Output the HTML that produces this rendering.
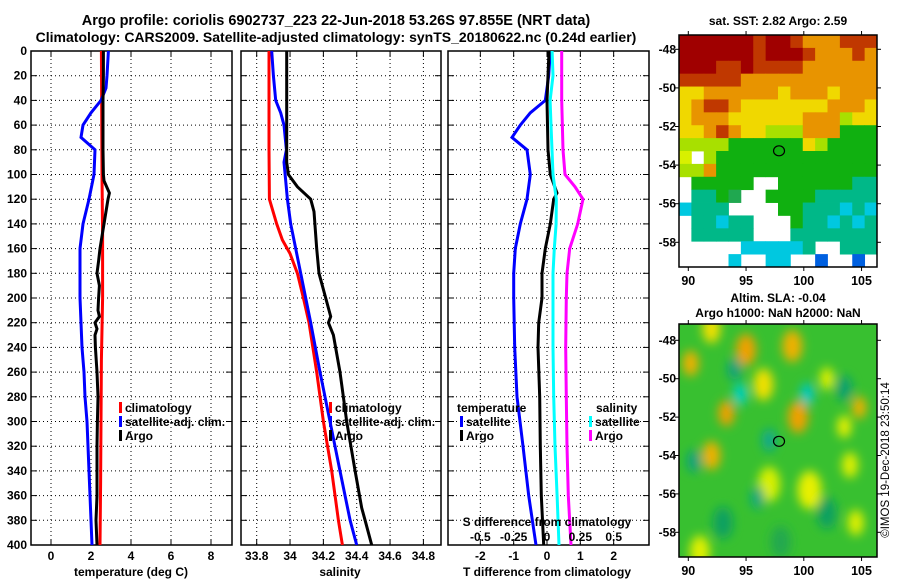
<!DOCTYPE html>
<html><head><meta charset="utf-8">
<style>
html,body{margin:0;padding:0;background:#fff;}
svg{display:block;font-family:"Liberation Sans",sans-serif;font-weight:bold;}
</style></head>
<body>
<svg id="fig" width="900" height="580" viewBox="0 0 900 580" xmlns="http://www.w3.org/2000/svg">
<defs>
<filter id="blur" x="-30%" y="-30%" width="160%" height="160%"><feGaussianBlur stdDeviation="5"/></filter>
<clipPath id="clipTop"><rect x="679" y="35" width="198" height="232"/></clipPath>
<clipPath id="clipBot"><rect x="679" y="324" width="198" height="233"/></clipPath>
<clipPath id="clipP1"><rect x="31" y="51" width="201" height="494"/></clipPath>
<clipPath id="clipP2"><rect x="241" y="51" width="200" height="494"/></clipPath>
<clipPath id="clipP3"><rect x="448" y="51" width="201" height="494"/></clipPath>
</defs>
<text x="336" y="25" font-size="14.5" text-anchor="middle">Argo profile: coriolis 6902737_223 22-Jun-2018 53.26S 97.855E (NRT data)</text>
<text x="336" y="42" font-size="14" text-anchor="middle">Climatology: CARS2009. Satellite-adjusted climatology: synTS_20180622.nc (0.24d earlier)</text>
<g id="g1"></g>
<g id="g2"></g>
<g id="g3"></g>
<g id="gm1"></g>
<g id="gm2"></g>
<text transform="translate(889,460) rotate(-90)" font-size="11.5" font-weight="normal" text-anchor="middle">©IMOS 19-Dec-2018 23:50:14</text>
</svg>
<script>
// ---------- data ----------
const depthTicks = [0,20,40,60,80,100,120,140,160,180,200,220,240,260,280,300,320,340,360,380,400];
const tempTicks = [0,2,4,6,8];
const salTicks = [33.8,34,34.2,34.4,34.6,34.8];
const tdiffTicks = [-2,-1,0,1,2];
const sdiffTicks = [-0.5,-0.25,0,0.25,0.5];
const sdiffLabels = ["-0.5","-0.25","0","0.25","0.5"];

const tClimDepth = [0,100,150,200,250,300,350,400];
const tClimVal   = [2.52,2.55,2.58,2.58,2.52,2.5,2.48,2.45];
const tSatDepth = [0,20,30,40,50,60,70,80,100,120,140,160,180,200,220,240,260,280,300,320,340,360,380,400];
const tSatVal   = [2.87,2.8,2.75,2.5,2.0,1.6,1.5,2.2,2.15,1.9,1.6,1.45,1.45,1.45,1.5,1.55,1.65,1.7,1.8,1.85,1.9,1.95,2.0,2.05];
const tArgoDepth = [0,20,40,60,80,100,105,115,120,140,150,160,170,180,190,200,210,215,220,225,230,240,260,280,300,320,340,360,380,400];
const tArgoVal   = [2.62,2.62,2.6,2.6,2.6,2.62,2.65,2.92,2.85,2.65,2.55,2.45,2.38,2.3,2.42,2.38,2.35,2.42,2.2,2.3,2.2,2.22,2.3,2.35,2.32,2.3,2.3,2.3,2.25,2.3];

const sClimDepth = [0,40,80,120,140,153,164,180,200,220,260,300,340,380,400];
const sClimVal   = [33.874,33.874,33.874,33.876,33.92,33.954,34.0,34.044,34.08,34.114,34.16,34.2,34.25,34.29,34.314];
const sSatDepth = [0,20,40,50,60,80,90,120,140,160,180,220,260,300,340,380,400];
const sSatVal   = [33.89,33.9,33.914,33.944,33.964,33.978,33.964,33.984,34.004,34.034,34.064,34.124,34.18,34.24,34.3,34.36,34.4];
const sArgoDepth = [0,40,90,100,110,120,130,160,180,200,215,220,230,260,300,340,370,380,400];
const sArgoVal   = [33.98,33.98,33.98,33.99,34.044,34.124,34.144,34.16,34.174,34.214,34.244,34.23,34.26,34.3,34.34,34.39,34.43,34.45,34.49];

const dTSatDepth = [0,20,40,50,60,70,80,100,120,140,160,180,200,240,280,320,360,400];
const dTSatVal   = [0.1,0.05,-0.05,-0.5,-0.8,-1.05,-0.6,-0.5,-0.6,-0.8,-0.95,-1.0,-1.0,-0.97,-0.9,-0.72,-0.55,-0.33];
const dTArgoDepth = [0,40,80,100,115,120,140,160,180,200,220,240,280,320,360,400];
const dTArgoVal   = [0.06,0.0,0.03,0.1,0.3,0.2,0.1,-0.05,-0.15,-0.15,-0.25,-0.27,-0.22,-0.2,-0.17,-0.1];
const dSSatDepth = [0,20,40,60,100,120,140,160,180,200,240,280,320,360,400];
const dSSatVal   = [0.038,0.045,0.023,0.03,0.045,0.07,0.068,0.055,0.045,0.045,0.045,0.05,0.06,0.076,0.09];
const dSArgoDepth = [0,40,80,100,110,120,140,160,180,200,240,280,320,360,400];
const dSArgoVal   = [0.11,0.11,0.12,0.135,0.21,0.27,0.23,0.17,0.15,0.145,0.14,0.145,0.15,0.16,0.18];

const latTicks = [-48,-50,-52,-54,-56,-58];
const lonTicks = [90,95,100,105];
const argoLon = 97.855, argoLat = -53.26;
const sstRows = [
"RRRRRRrRRrOOOrrr",
"RRRRRRrRRRrOOOrO",
"RRRrrRrrrrOOOOOO",
"rrrrrOOOOOOOOOOO",
"YYOOOOOOYOOOYOOO",
"YOrrOYYYYYYYOOOY",
"YOOOYYYYYYOOOLYY",
"YYOrOYYLLLOOOGGG",
"LLLLGGGGGGYLGGGG",
"yWLGGGGGGGGGGGGG",
"LLOGGGGGGGGGGGGG",
"WGGGGGWWGGGGGGTT",
"WTTGgWWGGGGTTTTT",
"CTTTWWWWGGTTTCTC",
"WTTCTTWWWGTTCTCT",
"WTTTTTWWWTTTTTTT",
"WWWWWCCCCCTWWTTT",
"WWWWCWWCCWWBWWBW"];
const sstColors = {R:"#a00000",r:"#c03800",O:"#e89400",Y:"#f0d800",y:"#d8f000",L:"#a8e000",G:"#10b010",g:"#20a850",T:"#00b888",C:"#00c8e0",B:"#0060e0",W:"#ffffff"};
const slaBlobs = [[95,-48.5,"#f0a000",10],[99,-48.3,"#f0b000",10],[90.2,-49.2,"#f0b000",8],[92,-47.4,"#f0e000",9],[96.5,-50.3,"#f0e000",10],[93.3,-51.8,"#f0a000",8],[99.5,-52,"#f0a000",10],[92,-54,"#f0b000",9],[100.5,-55.8,"#e8f000",12],[97,-55.5,"#d8f000",11],[104.8,-51.5,"#f0b000",7],[103.5,-52.5,"#e8f000",7],[104,-54.5,"#e0f000",8],[104.5,-57.5,"#e0f000",8],[91,-59,"#e0f000",10],[102,-50,"#e0f000",7],[94.5,-50.8,"#00d0c0",7],[100.3,-50.8,"#00c8c0",7],[97,-53.2,"#10a890",7],[94,-49.5,"#10a080",7],[103.5,-50.5,"#10a070",8],[96,-56.2,"#10a880",7],[90.5,-54.3,"#10a080",7],[102,-57,"#10a060",10],[93,-57.5,"#10a060",10],[98,-58.5,"#20a850",10]];

// ---------- helpers ----------
const NS="http://www.w3.org/2000/svg";
function mk(tag, attrs, parent){const e=document.createElementNS(NS,tag);for(const k in attrs)e.setAttribute(k,attrs[k]);parent.appendChild(e);return e;}
const Y0=51, Y1=545;
const yDepth = d => Y0 + d*(Y1-Y0)/400;

function panel(g, x0, x1, xs, ticks, labels){
  depthTicks.forEach(d=>{
    const l=mk("line",{x1:x0,x2:x1,y1:yDepth(d),y2:yDepth(d),stroke:"#000","stroke-dasharray":"1,3","stroke-width":1},g);
    
    
  });
  ticks.forEach(t=>{
    const l=mk("line",{x1:xs(t),x2:xs(t),y1:Y0,y2:Y1,stroke:"#000","stroke-dasharray":"1,3","stroke-width":1},g);
    
    
  });
  const r=mk("rect",{x:x0,y:Y0,width:x1-x0,height:Y1-Y0,fill:"none",stroke:"#000","stroke-width":1.5},g);
  
  
  depthTicks.forEach(d=>{
    mk("line",{x1:x0,x2:x0+6,y1:yDepth(d),y2:yDepth(d),stroke:"#000"},g);
    mk("line",{x1:x1-6,x2:x1,y1:yDepth(d),y2:yDepth(d),stroke:"#000"},g);
  });
  ticks.forEach((t,i)=>{
    mk("line",{x1:xs(t),x2:xs(t),y1:Y1-6,y2:Y1,stroke:"#000"},g);
    mk("line",{x1:xs(t),x2:xs(t),y1:Y0,y2:Y0+6,stroke:"#000"},g);
    if(labels){
      const tx=mk("text",{x:xs(t),y:560,"font-size":12,"text-anchor":"middle"},g);
      tx.textContent=labels[i];
      
      
    }
  });
}
function line(g, depths, vals, xs, color, name, clip){
  const pts=depths.map((d,i)=>xs(vals[i]).toFixed(1)+","+yDepth(d).toFixed(1)).join(" ");
  const p=mk("polyline",{points:pts,fill:"none",stroke:color,"stroke-width":3,"clip-path":"url(#"+clip+")"},g);
  
  
}
function txt(g,x,y,s,size,anchor,name){
  const t=mk("text",{x:x,y:y,"font-size":size,"text-anchor":anchor||"start"},g);
  t.textContent=s;
  
  
  return t;
}
function legend(g,x,y,color,label){
  const b=mk("rect",{x:x,y:y-10,width:3,height:11,fill:color},g);
  
  
  txt(g,x+6,y,label,12,"start","legend-entry");
}

// ---------- panel 1 ----------
const g1=document.getElementById("g1");
const xT = t => 51 + t*20;
panel(g1,31,232,xT,tempTicks,tempTicks.map(String));
depthTicks.forEach(d=>txt(g1,27,yDepth(d)+4,String(d),12,"end","y-tick-label"));
line(g1,tClimDepth,tClimVal,xT,"#ff0000","climatology-temperature-line","clipP1");
line(g1,tSatDepth,tSatVal,xT,"#0000ff","satellite-temperature-line","clipP1");
line(g1,tArgoDepth,tArgoVal,xT,"#000000","argo-temperature-line","clipP1");
legend(g1,119,412,"#ff0000","climatology");
legend(g1,119,426,"#0000ff","satellite-adj. clim.");
legend(g1,119,440,"#000000","Argo");
txt(g1,131,576,"temperature (deg C)",12,"middle","x-axis-title");

// ---------- panel 2 ----------
const g2=document.getElementById("g2");
const xS = s => 256.7 + (s-33.8)*166.7;
panel(g2,241,441,xS,salTicks,["33.8","34","34.2","34.4","34.6","34.8"]);
line(g2,sClimDepth,sClimVal,xS,"#ff0000","climatology-salinity-line","clipP2");
line(g2,sSatDepth,sSatVal,xS,"#0000ff","satellite-salinity-line","clipP2");
line(g2,sArgoDepth,sArgoVal,xS,"#000000","argo-salinity-line","clipP2");
legend(g2,329,412,"#ff0000","climatology");
legend(g2,329,426,"#0000ff","satellite-adj. clim.");
legend(g2,329,440,"#000000","Argo");
txt(g2,340,576,"salinity",12,"middle","x-axis-title");

// ---------- panel 3 ----------
const g3=document.getElementById("g3");
const xD = t => 547 + t*33.33;
const xSD = s => 547 + s*133.33;
panel(g3,448,649,xD,tdiffTicks,tdiffTicks.map(String));
line(g3,dTSatDepth,dTSatVal,xD,"#0000ff","satellite-temperature-diff-line","clipP3");
line(g3,dTArgoDepth,dTArgoVal,xD,"#000000","argo-temperature-diff-line","clipP3");
line(g3,dSSatDepth,dSSatVal,xSD,"#00ffff","satellite-salinity-diff-line","clipP3");
line(g3,dSArgoDepth,dSArgoVal,xSD,"#ff00ff","argo-salinity-diff-line","clipP3");
txt(g3,457,412,"temperature",12,"start","legend-title-temperature");
legend(g3,460,426,"#0000ff","satellite");
legend(g3,460,440,"#000000","Argo");
txt(g3,596,412,"salinity",12,"start","legend-title-salinity");
legend(g3,589,426,"#00ffff","satellite");
legend(g3,589,440,"#ff00ff","Argo");
txt(g3,547,526,"S difference from climatology",12,"middle","secondary-x-axis-title");
sdiffTicks.forEach((s,i)=>txt(g3,xSD(s),541,sdiffLabels[i],12,"middle","secondary-x-tick-label"));
txt(g3,547,576,"T difference from climatology",12,"middle","x-axis-title");

// ---------- maps ----------
const MX0=679, MX1=877;
const lonX = lon => 688.3 + (lon-90)*11.55;
function mapFrame(g,top,h,latY){
  mk("rect",{x:MX0,y:top,width:MX1-MX0,height:h,fill:"none",stroke:"#000","stroke-width":1.5},g);
  latTicks.forEach(l=>{
    mk("line",{x1:MX0-4,x2:MX0,y1:latY(l),y2:latY(l),stroke:"#000"},g);
    mk("line",{x1:MX1,x2:MX1+4,y1:latY(l),y2:latY(l),stroke:"#000"},g);
    txt(g,676,latY(l)+4,String(l),12,"end","lat-tick-label");
  });
  lonTicks.forEach(l=>{
    mk("line",{x1:lonX(l),x2:lonX(l),y1:top+h,y2:top+h+4,stroke:"#000"},g);
    mk("line",{x1:lonX(l),x2:lonX(l),y1:top-4,y2:top,stroke:"#000"},g);
    txt(g,lonX(l),top+h+18,String(l),12.5,"middle","lon-tick-label");
  });
  const c=mk("ellipse",{cx:lonX(argoLon),cy:latY(argoLat),rx:5.5,ry:5,fill:"none",stroke:"#000","stroke-width":1.2},g);
  
  
}
const gm1=document.getElementById("gm1");
const latY1 = l => 49.3 + (-48-l)*19.3;
const cells=mk("g",{"clip-path":"url(#clipTop)"},gm1);
const cw=198/16, ch=232/18;
sstRows.forEach((row,r)=>{
  for(let c=0;c<row.length;c++){
    const k=row[c]; if(k==="W") continue;
    const re=mk("rect",{x:MX0+c*cw,y:35+r*ch,width:cw+0.4,height:ch+0.4,fill:sstColors[k]},cells);
    
    
  }
});
mapFrame(gm1,35,232,latY1);
txt(gm1,778,25,"sat. SST: 2.82 Argo: 2.59",12,"middle","sst-map-title");

const gm2=document.getElementById("gm2");
const latY2 = l => 340.3 + (-48-l)*19.2;
const sl=mk("g",{"clip-path":"url(#clipBot)"},gm2);
mk("rect",{x:MX0,y:324,width:198,height:233,fill:"#38c030"},sl);
const bl=mk("g",{filter:"url(#blur)"},sl);
slaBlobs.forEach(b=>{
  const e=mk("ellipse",{cx:lonX(b[0]),cy:latY2(b[1]),rx:b[3],ry:b[3]*1.6,fill:b[2]},bl);
  
  
});
mapFrame(gm2,324,233,latY2);
txt(gm2,778,302,"Altim. SLA: -0.04",12,"middle","sla-map-title");
txt(gm2,778,317,"Argo h1000: NaN h2000: NaN",12,"middle","sla-map-subtitle");
</script>
</body></html>
